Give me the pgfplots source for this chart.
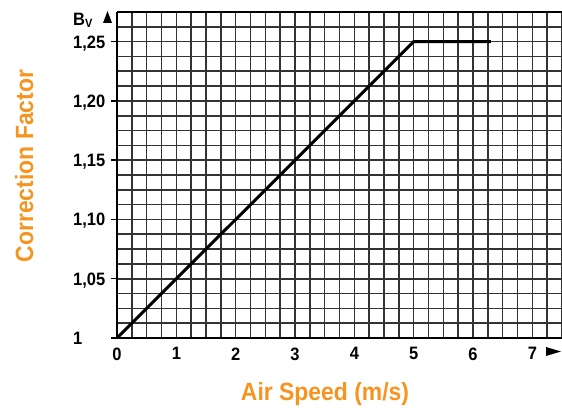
\documentclass[border=0pt]{standalone}
\usepackage{pgfplots}
\pgfplotsset{compat=1.18}
\usepackage{fontspec}
\setmainfont{Liberation Sans}
\newfontfamily\labfont{Liberation Sans}[FakeStretch=0.92]
\definecolor{orng}{RGB}{246,148,32}

\begin{document}
\begin{tikzpicture}[x=1bp,y=1bp]
\useasboundingbox (0,0) rectangle (562,408);
\begin{axis}[
    at={(117bp,70bp)}, anchor=south west,
    scale only axis, width=445bp, height=326bp,
    xmin=0, xmax=7.5, ymin=1, ymax=1.275,
    axis x line*=bottom, axis y line*=left,
    axis line style={line width=2.4bp, -},
    xtick={0,1,2,3,4,5,6,7},
    xticklabels={0,1,2,3,4,5,6,7},
    minor xtick={0,0.25,...,7.5},
    ytick={1,1.05,1.1,1.15,1.2,1.25},
    yticklabels={1,{1,05},{1,10},{1,15},{1,20},{1,25}},
    minor ytick={1,1.0125,...,1.275},
    grid=both,
    major grid style={black!80, line width=1.6bp},
    minor grid style={black!80, line width=1.6bp},
    xtick style={draw=none},
    ytick style={line width=1.4bp, black},
    major tick length=6bp, minor tick length=0pt,
    tick align=outside,
    ticklabel style={font=\labfont\bfseries\fontsize{18}{18}\selectfont},
    yticklabel style={inner sep=0pt, anchor=base west, xshift=-38bp, yshift=-6.5bp},
    clip=false,
]
% correction factor over air speed
\addplot[line width=3bp, black] coordinates {(0,1) (5,1.25) (6.3,1.25)};
\draw[line width=2.4bp] (axis cs:0,1.275) -- (axis cs:7.5,1.275);
\end{axis}

% axis arrows and names
\fill (103,385) -- (112,385) -- (107.5,397) -- cycle;
\fill (546,61) -- (546,52) -- (561,56.5) -- cycle;
\node[anchor=base west, inner sep=0pt, font=\labfont\bfseries\fontsize{18}{18}\selectfont]
  at (73,383) {B\raisebox{-2bp}{\fontsize{12}{12}\selectfont V}};
\node[anchor=base, inner sep=0pt, text=orng, font=\labfont\bfseries\fontsize{25}{25}\selectfont]
  at (325,8) {Air Speed (m/s)};
\node[anchor=base, inner sep=0pt, rotate=90, text=orng, font=\labfont\bfseries\fontsize{25}{25}\selectfont]
  at (33,242) {Correction Factor};
\end{tikzpicture}
\end{document}
